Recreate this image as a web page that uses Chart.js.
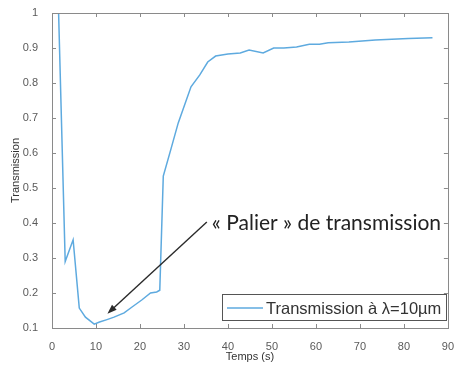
<!DOCTYPE html>
<html>
<head>
<meta charset="utf-8">
<script src="https://cdn.jsdelivr.net/npm/chart.js@4"></script>
<style>
  html, body { margin: 0; padding: 0; background: #fff; }
  #wrap { width: 458px; height: 370px; }
</style>
</head>
<body>
<div id="wrap"><canvas id="chart"></canvas></div>
<script>
// temps (s) et transmission
const temps = [1.5, 3, 4.8, 6.2, 7.6, 9.6, 10.8, 12.5, 14.1, 16.4, 18.2, 20.4, 22.4, 23.8, 24.5, 25.3,
               27.1, 28.7, 31.6, 33.6, 35.4, 37.2, 40, 42.8, 44.8, 48, 50.4, 52.7, 55.6, 58.5, 60.8,
               62.8, 67.5, 73.5, 81, 86.5];
const transmission = [1.0, 0.29, 0.352, 0.157, 0.131, 0.111, 0.117, 0.124, 0.131, 0.143, 0.16, 0.18,
                      0.2, 0.203, 0.208, 0.534, 0.614, 0.686, 0.789, 0.823, 0.86, 0.877, 0.883, 0.886,
                      0.894, 0.886, 0.9, 0.9, 0.903, 0.911, 0.911, 0.915, 0.917, 0.923, 0.927, 0.929];

const xTicks = [0, 10, 20, 30, 40, 50, 60, 70, 80, 90];
const yTicks = [0.1, 0.2, 0.3, 0.4, 0.5, 0.6, 0.7, 0.8, 0.9, 1];

const serieLabel = 'Transmission à λ=10µm';
const annotationText = '« Palier » de transmission';
// flèche : départ et pointe (en coordonnées des données)
const flecheDebut = [35.2, 0.403];
const flecheFin = [12.6, 0.141];

const lineColor = '#5eaadf';

// boite, graduations internes, legende et annotation
const decorPlugin = {
    id: 'decor',
    afterDraw(chart) {
        const ctx = chart.ctx;
        const a = chart.chartArea;
        const xs = chart.scales.x, ys = chart.scales.y;
        ctx.save();
        ctx.strokeStyle = '#8a8a8a';
        ctx.lineWidth = 1;
        ctx.strokeRect(Math.round(a.left) + 0.5, Math.round(a.top) + 0.5,
                       Math.round(a.right - a.left), Math.round(a.bottom - a.top));
        ctx.beginPath();
        xTicks.forEach(v => {
            const px = Math.round(xs.getPixelForValue(v)) + 0.5;
            ctx.moveTo(px, a.bottom); ctx.lineTo(px, a.bottom - 4);
            ctx.moveTo(px, a.top); ctx.lineTo(px, a.top + 4);
        });
        yTicks.forEach(v => {
            const py = Math.round(ys.getPixelForValue(v)) + 0.5;
            ctx.moveTo(a.left, py); ctx.lineTo(a.left + 4, py);
            ctx.moveTo(a.right, py); ctx.lineTo(a.right - 4, py);
        });
        ctx.stroke();

        // legende
        const lx = 222, ly = 294, lw = 224, lh = 26;
        ctx.fillStyle = '#fff';
        ctx.fillRect(lx, ly, lw, lh);
        ctx.strokeStyle = '#555';
        ctx.strokeRect(lx + 0.5, ly + 0.5, lw, lh);
        ctx.strokeStyle = lineColor;
        ctx.lineWidth = 1.5;
        ctx.beginPath();
        ctx.moveTo(lx + 5, ly + 14); ctx.lineTo(lx + 41, ly + 14);
        ctx.stroke();
        ctx.fillStyle = '#333';
        ctx.font = '16.5px "Liberation Sans", Arial, sans-serif';
        ctx.textBaseline = 'middle';
        ctx.textAlign = 'left';
        ctx.fillText(serieLabel, lx + 44, ly + 15);

        // annotation + fleche
        const x0 = xs.getPixelForValue(flecheDebut[0]), y0 = ys.getPixelForValue(flecheDebut[1]);
        const x1 = xs.getPixelForValue(flecheFin[0]), y1 = ys.getPixelForValue(flecheFin[1]);
        ctx.strokeStyle = '#2a2a2a';
        ctx.fillStyle = '#2a2a2a';
        ctx.lineWidth = 1.4;
        const ang = Math.atan2(y1 - y0, x1 - x0);
        const head = 10;
        ctx.beginPath();
        ctx.moveTo(x0, y0);
        ctx.lineTo(x1 - Math.cos(ang) * head * 0.8, y1 - Math.sin(ang) * head * 0.8);
        ctx.stroke();
        ctx.beginPath();
        ctx.moveTo(x1, y1);
        ctx.lineTo(x1 - head * Math.cos(ang - 0.35), y1 - head * Math.sin(ang - 0.35));
        ctx.lineTo(x1 - head * Math.cos(ang + 0.35), y1 - head * Math.sin(ang + 0.35));
        ctx.closePath();
        ctx.fill();

        ctx.fillStyle = '#222';
        ctx.font = '21px Lato, "Noto Sans", sans-serif';
        ctx.textBaseline = 'middle';
        ctx.fillText(annotationText, x0 + 5, y0 + 1);
        ctx.restore();
    }
};

const ctx = document.getElementById('chart').getContext('2d');
const myChart = new Chart(ctx, {
    type: 'scatter',
    data: {
        datasets: [{
            label: serieLabel,
            data: temps.map((t, i) => ({ x: t, y: transmission[i] })),
            showLine: true,
            borderColor: lineColor,
            borderWidth: 1.5,
            pointRadius: 0,
            tension: 0
        }]
    },
    options: {
        responsive: true,
        maintainAspectRatio: false,
        animation: false,
        layout: { padding: { left: 0, top: 13, right: 5, bottom: 0 } },
        plugins: {
            legend: { display: false },
            tooltip: { enabled: false }
        },
        scales: {
            x: {
                type: 'linear',
                min: 0,
                max: 90,
                grid: { display: false },
                border: { display: false },
                ticks: {
                    stepSize: 10,
                    padding: 4,
                    color: '#5a5a5a',
                    font: { family: '"Liberation Sans", Arial, sans-serif', size: 11 }
                },
                title: {
                    display: true,
                    text: 'Temps (s)',
                    color: '#333',
                    padding: { top: 0, bottom: 6 },
                    font: { family: '"Liberation Sans", Arial, sans-serif', size: 11 }
                },
                afterFit(scale) { scale.height = 42; }
            },
            y: {
                min: 0.1,
                max: 1,
                grid: { display: false },
                border: { display: false },
                ticks: {
                    stepSize: 0.1,
                    padding: 6,
                    color: '#5a5a5a',
                    font: { family: '"Liberation Sans", Arial, sans-serif', size: 11 },
                    callback: v => String(Number(v.toFixed(1)))
                },
                title: {
                    display: true,
                    text: 'Transmission',
                    color: '#333',
                    padding: { top: 9, bottom: 0 },
                    font: { family: '"Liberation Sans", Arial, sans-serif', size: 11 }
                },
                afterFit(scale) { scale.width = 52; }
            }
        }
    },
    plugins: [decorPlugin]
});
</script>
</body>
</html>
